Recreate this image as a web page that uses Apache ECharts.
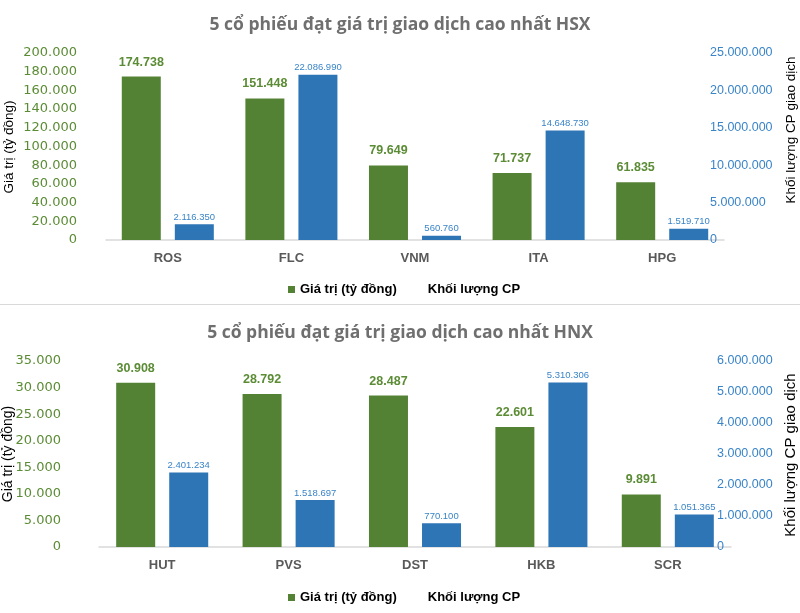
<!DOCTYPE html>
<html>
<head>
<meta charset="utf-8">
<script src="https://cdn.jsdelivr.net/npm/echarts@6/dist/echarts.min.js"></script>
<style>html,body{margin:0;padding:0;background:#fff}#c{width:800px;height:613px}</style>
</head>
<body>
<div id="c"></div>
<script>
// ---- Data ----
const hsxTitle = '5 cổ phiếu đạt giá trị giao dịch cao nhất HSX';
const hsxCategories = ['ROS', 'FLC', 'VNM', 'ITA', 'HPG'];
const hsxValue = [174738, 151448, 79649, 71737, 61835];          // Giá trị (tỷ đồng)
const hsxVolume = [2116350, 22086990, 560760, 14648730, 1519710]; // Khối lượng CP

const hnxTitle = '5 cổ phiếu đạt giá trị giao dịch cao nhất HNX';
const hnxCategories = ['HUT', 'PVS', 'DST', 'HKB', 'SCR'];
const hnxValue = [30908, 28792, 28487, 22601, 9891];
const hnxVolume = [2401234, 1518697, 770100, 5310306, 1051365];

const seriesNames = ['Giá trị (tỷ đồng)', 'Khối lượng CP'];
const leftAxisName = 'Giá trị (tỷ đồng)';
const rightAxisName = 'Khối lượng CP giao dịch';

// ---- Styling ----
const GREEN = '#548235', BLUE = '#2E75B6';
const GREEN_TXT = '#5B8C35', BLUE_TXT = '#3A84C8';
const fmt = v => String(Math.round(v)).replace(/\B(?=(\d{3})+(?!\d))/g, '.');

const chart = echarts.init(document.getElementById('c'), null, {renderer: 'canvas'});

const grids = [
  {left: 106, width: 618, top: 53, height: 187},
  {left: 99, width: 632, top: 361, height: 186}
];
const leftMax = [200000, 35000], leftInt = [20000, 5000];
const rightMax = [25000000, 6000000], rightInt = [5000000, 1000000];
const leftMargin = [29, 38];
const cats = [hsxCategories, hnxCategories];
const vals = [hsxValue, hnxValue];
const vols = [hsxVolume, hnxVolume];

const xAxis = [], yAxis = [], series = [];
for (let i = 0; i < 2; i++) {
  xAxis.push({
    type: 'category', gridIndex: i, data: cats[i],
    axisLine: {lineStyle: {color: '#d9d9d9', width: 1.5}},
    axisTick: {show: false},
    axisLabel: {color: '#595959', fontWeight: 'bold', fontSize: 13, fontFamily: 'Liberation Sans', margin: 12}
  });
  yAxis.push({
    type: 'value', gridIndex: i, min: 0, max: leftMax[i], interval: leftInt[i],
    splitLine: {show: false}, axisLine: {show: false}, axisTick: {show: false},
    axisLabel: {color: GREEN_TXT, fontSize: 13, fontFamily: 'DejaVu Sans', margin: leftMargin[i], formatter: fmt}
  });
  yAxis.push({
    type: 'value', gridIndex: i, position: 'right', min: 0, max: rightMax[i], interval: rightInt[i],
    splitLine: {show: false}, axisLine: {show: false}, axisTick: {show: false},
    axisLabel: {color: BLUE_TXT, fontSize: 12.5, fontFamily: 'Liberation Sans', margin: -14, formatter: fmt}
  });
  series.push({
    name: seriesNames[0], type: 'bar', xAxisIndex: i, yAxisIndex: i * 2,
    data: vals[i], barWidth: 39, barGap: '36%',
    itemStyle: {color: GREEN},
    label: {show: true, position: 'top', distance: 8, color: GREEN_TXT, fontWeight: 'bold',
      fontSize: 12.5, fontFamily: 'Liberation Sans', formatter: p => fmt(p.value)}
  });
  series.push({
    name: seriesNames[1], type: 'bar', xAxisIndex: i, yAxisIndex: i * 2 + 1,
    data: vols[i], barWidth: 39, barGap: '36%',
    itemStyle: {color: BLUE},
    label: {show: true, position: 'top', distance: 2, color: BLUE_TXT,
      fontSize: 9.5, fontFamily: 'Liberation Sans', formatter: p => fmt(p.value)}
  });
}

const legendCommon = {
  itemWidth: 7, itemHeight: 7, itemGap: 19,
  textStyle: {color: '#000', fontWeight: 'bold', fontSize: 13, fontFamily: 'Liberation Sans'},
  data: [{name: seriesNames[0], icon: 'rect'}, {name: seriesNames[1], icon: 'none'}],
  selectedMode: false
};

const nameStyle = size => ({fill: '#000', fontSize: size, fontFamily: 'Liberation Sans', align: 'center', verticalAlign: 'middle'});

chart.setOption({
  animation: false,
  title: [
    {text: hsxTitle, left: 'center', top: 11, textStyle: {color: '#6F6F6F', fontSize: 17.5, fontWeight: 'bold', fontFamily: 'Open Sans'}},
    {text: hnxTitle, left: 'center', top: 319, textStyle: {color: '#6F6F6F', fontSize: 17.5, fontWeight: 'bold', fontFamily: 'Open Sans'}}
  ],
  legend: [
    Object.assign({left: 283, top: 278}, legendCommon),
    Object.assign({left: 283, top: 586}, legendCommon)
  ],
  grid: grids,
  xAxis: xAxis,
  yAxis: yAxis,
  series: series,
  graphic: [
    {type: 'line', shape: {x1: 0, y1: 304.5, x2: 800, y2: 304.5}, style: {stroke: '#d9d9d9', lineWidth: 1}},
    {type: 'text', x: 9, y: 147, rotation: Math.PI / 2, style: Object.assign({text: leftAxisName}, nameStyle(13.5))},
    {type: 'text', x: 791, y: 130, rotation: Math.PI / 2, style: Object.assign({text: rightAxisName}, nameStyle(13.5))},
    {type: 'text', x: 8, y: 454, rotation: Math.PI / 2, style: Object.assign({text: leftAxisName}, nameStyle(14))},
    {type: 'text', x: 791, y: 455, rotation: Math.PI / 2, style: Object.assign({text: rightAxisName}, nameStyle(15))}
  ]
});
</script>
</body>
</html>
